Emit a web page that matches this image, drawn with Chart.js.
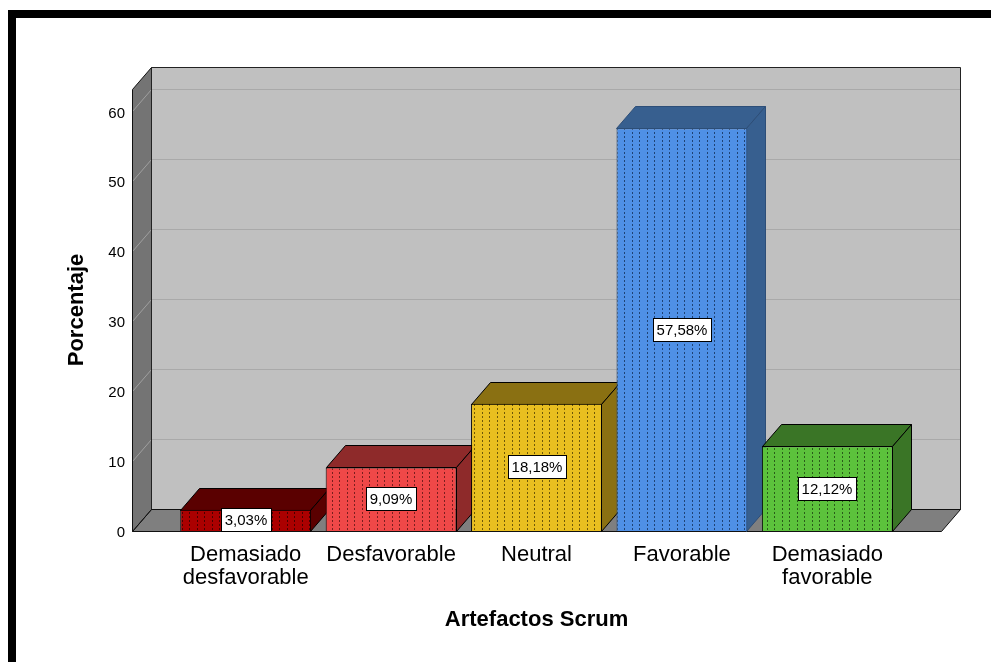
<!DOCTYPE html>
<html>
<head>
<meta charset="utf-8">
<script src="https://cdn.jsdelivr.net/npm/chart.js@4.4.1/dist/chart.umd.min.js"></script>
<style>
  html, body { margin: 0; padding: 0; background: #fff; overflow: hidden; }
  #wrap { width: 991px; height: 662px; position: relative; }
</style>
</head>
<body>
<div id="wrap"><canvas id="c" width="991" height="662"></canvas></div>
<script>
// Categories of the "Artefactos Scrum" variable and their percentages
const categories = [['Demasiado', 'desfavorable'], 'Desfavorable', 'Neutral', 'Favorable', ['Demasiado', 'favorable']];
const percentages = [3.03, 9.09, 18.18, 57.58, 12.12];
const yTicks = [0, 10, 20, 30, 40, 50, 60];
const yMax = 63.2;

// Face colours: front, top/side shade, dot pattern, outline
const frontColors = ['#ab0000', '#ef4848', '#e9bf20', '#4f90e6', '#5cc23c'];
const shadeColors = ['#5a0000', '#8e2a2a', '#8a7012', '#375f8f', '#3a7526'];
const dotColors   = ['#4a0000', '#7a1e1e', '#6e5808', '#1f4375', '#2a5c1a'];
const edgeColors  = ['#000000', '#000000', '#000000', '#2d4e78', '#000000'];

// Oblique depth of the 3D frame and bars, and the floor overhang beyond the categories
const DX = 19, DY = -22, SIDE = 41;
const FONT = '"Liberation Sans", Arial, sans-serif';

function makePattern(bg, dot) {
  const c = document.createElement('canvas');
  c.width = 15; c.height = 4;
  const g = c.getContext('2d');
  g.fillStyle = bg; g.fillRect(0, 0, 15, 4);
  g.fillStyle = dot;
  g.fillRect(2, 0, 1, 2);
  g.fillRect(9, 0, 1, 2);
  return g.createPattern(c, 'repeat');
}

function poly(ctx, pts, fill, stroke) {
  ctx.beginPath();
  ctx.moveTo(pts[0][0], pts[0][1]);
  for (let i = 1; i < pts.length; i++) ctx.lineTo(pts[i][0], pts[i][1]);
  ctx.closePath();
  if (fill) { ctx.fillStyle = fill; ctx.fill(); }
  if (stroke) { ctx.strokeStyle = stroke; ctx.lineWidth = 1; ctx.stroke(); }
}

function line(ctx, x1, y1, x2, y2, color) {
  ctx.beginPath();
  ctx.moveTo(x1, y1); ctx.lineTo(x2, y2);
  ctx.strokeStyle = color; ctx.lineWidth = 1; ctx.stroke();
}

// Walls, floor and gridlines of the 3D box
const frame3d = {
  id: 'frame3d',
  beforeDatasetsDraw(chart) {
    const { ctx, chartArea: a, scales: { y } } = chart;
    const xl = a.left - SIDE + 0.5, xr = a.right + SIDE + 0.5;
    const top = Math.round(y.getPixelForValue(yMax)) + 0.5;
    const bot = Math.round(y.getPixelForValue(0)) + 0.5;
    ctx.save();
    // back wall
    poly(ctx, [[xl + DX, top + DY], [xr + DX, top + DY], [xr + DX, bot + DY], [xl + DX, bot + DY]], '#c0c0c0');
    yTicks.forEach(v => {
      if (v === 0) return;
      const py = Math.round(y.getPixelForValue(v)) + 0.5;
      line(ctx, xl + DX, py + DY, xr + DX, py + DY, '#a9a9a9');
    });
    // left wall
    poly(ctx, [[xl, top], [xl + DX, top + DY], [xl + DX, bot + DY], [xl, bot]], '#747474');
    yTicks.forEach(v => {
      if (v === 0) return;
      const py = Math.round(y.getPixelForValue(v)) + 0.5;
      line(ctx, xl, py, xl + DX, py + DY, '#a0a0a0');
    });
    // floor
    poly(ctx, [[xl, bot], [xl + DX, bot + DY], [xr + DX, bot + DY], [xr, bot]], '#7f7f7f');
    // outlines
    poly(ctx, [[xl, top], [xl + DX, top + DY], [xl + DX, bot + DY], [xl, bot]], null, '#111');
    poly(ctx, [[xl + DX, top + DY], [xr + DX, top + DY], [xr + DX, bot + DY], [xl + DX, bot + DY]], null, '#222');
    poly(ctx, [[xl, bot], [xl + DX, bot + DY], [xr + DX, bot + DY], [xr, bot]], null, '#111');

    // tops and sides of the bars (fronts are drawn by the bar elements)
    const meta = chart.getDatasetMeta(0);
    meta.data.forEach((bar, i) => {
      const p = bar.getProps(['x', 'y', 'base', 'width'], true);
      const l = Math.round(p.x - p.width / 2) + 0.5, r = Math.round(p.x + p.width / 2) - 0.5;
      const t = Math.round(p.y) + 0.5, b = Math.round(p.base) + 0.5;
      poly(ctx, [[l, t], [l + DX, t + DY], [r + DX, t + DY], [r, t]], shadeColors[i], edgeColors[i]);
      poly(ctx, [[r, t], [r + DX, t + DY], [r + DX, b + DY], [r, b]], shadeColors[i], edgeColors[i]);
    });
    ctx.restore();
  },
  afterDatasetsDraw(chart) {
    const { ctx } = chart;
    const meta = chart.getDatasetMeta(0);
    ctx.save();
    ctx.font = '15px ' + FONT;
    ctx.textAlign = 'center';
    ctx.textBaseline = 'middle';
    meta.data.forEach((bar, i) => {
      const p = bar.getProps(['x', 'y', 'base'], true);
      const text = percentages[i].toFixed(2).replace('.', ',') + '%';
      const w = Math.round(ctx.measureText(text).width) + 7;
      const h = 23;
      const cx = Math.round(p.x), cy = Math.round((p.y + p.base) / 2);
      const bx = cx - Math.round(w / 2) + 0.5, by = cy - Math.round(h / 2) + 0.5;
      ctx.fillStyle = '#fff';
      ctx.fillRect(bx, by, w, h);
      ctx.strokeStyle = '#000'; ctx.lineWidth = 1;
      ctx.strokeRect(bx, by, w, h);
      ctx.fillStyle = '#000';
      ctx.fillText(text, cx, cy + 1);
    });
    ctx.restore();
  },
  afterDraw(chart) {
    const { ctx } = chart;
    ctx.save();
    ctx.fillStyle = '#000';
    ctx.fillRect(8, 10, chart.width - 8, 8);
    ctx.fillRect(8, 10, 8, chart.height - 10);
    ctx.restore();
  }
};

const chart = new Chart(document.getElementById('c'), {
  type: 'bar',
  data: {
    labels: categories,
    datasets: [{
      data: percentages,
      backgroundColor: frontColors.map((c, i) => makePattern(c, dotColors[i])),
      borderColor: edgeColors,
      borderWidth: 1,
      barPercentage: 0.9,
      categoryPercentage: 1
    }]
  },
  options: {
    responsive: false,
    animation: false,
    events: [],
    layout: { padding: { top: 89, right: 91, left: 0, bottom: 0 } },
    plugins: { legend: { display: false }, tooltip: { enabled: false } },
    scales: {
      x: {
        grid: { display: false, drawTicks: false },
        border: { display: false },
        ticks: {
          color: '#000',
          font: { family: FONT, size: 22, lineHeight: 23 / 22 },
          padding: 12,
          maxRotation: 0,
          autoSkip: false
        },
        title: {
          display: true,
          text: 'Artefactos Scrum',
          color: '#000',
          font: { family: FONT, size: 22, weight: 'bold' },
          padding: { top: 0, bottom: 29 }
        },
        afterFit(s) { s.height = 131; }
      },
      y: {
        min: 0,
        max: yMax,
        grid: { display: false, drawTicks: false },
        border: { display: false },
        afterBuildTicks(s) { s.ticks = yTicks.map(v => ({ value: v })); },
        ticks: {
          color: '#000',
          font: { family: FONT, size: 15 },
          padding: 48,
          labelOffset: 2
        },
        title: {
          display: true,
          text: 'Porcentaje',
          color: '#000',
          font: { family: FONT, size: 22, weight: 'bold' },
          padding: { top: 64, bottom: 0 }
        },
        afterFit(s) { s.width = 173; }
      }
    }
  },
  plugins: [frame3d]
});
</script>
</body>
</html>
